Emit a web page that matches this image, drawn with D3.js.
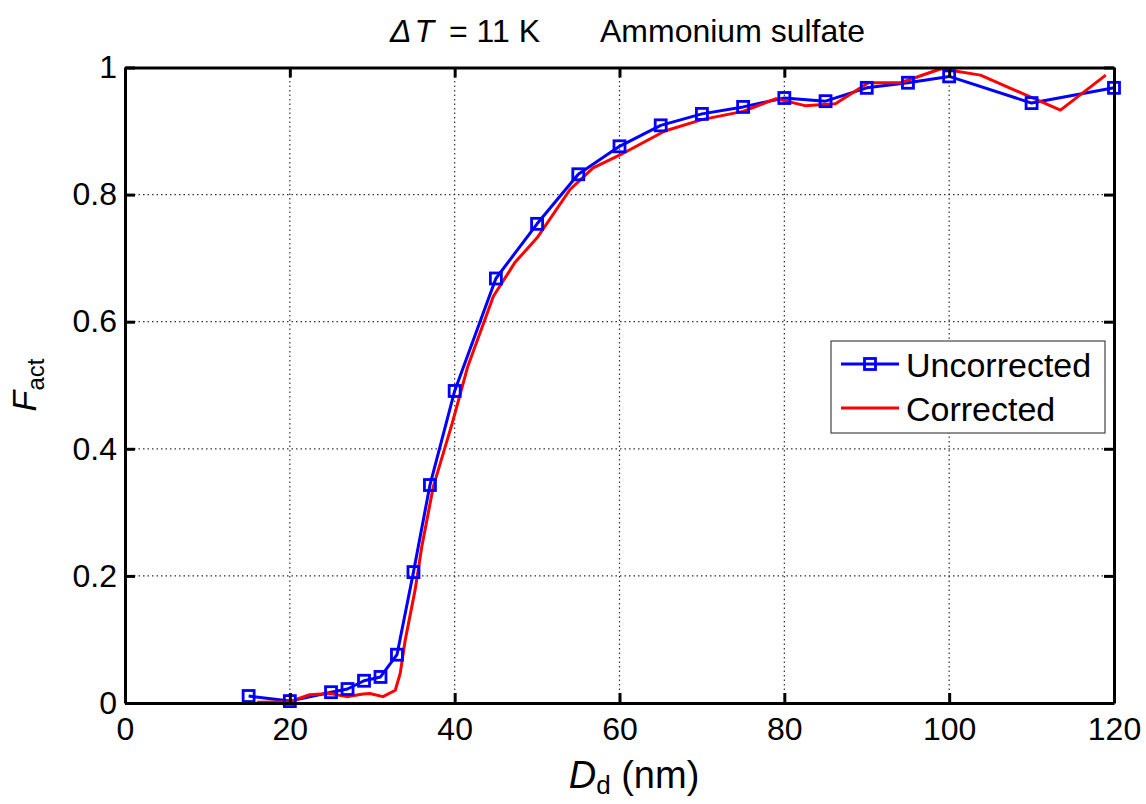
<!DOCTYPE html>
<html>
<head>
<meta charset="utf-8">
<title>Fact vs Dd</title>
<script src="https://d3js.org/d3.v7.min.js"></script>
<style>
  body { margin: 0; background: #fff; }
  text { font-family: "Liberation Sans", Arial, sans-serif; }
</style>
</head>
<body>
<svg width="1146" height="804"></svg>
<script>
// uncorrected (blue, square markers)
var uncorrX = [15, 20, 25, 27, 29, 31, 33, 35, 37, 40, 45, 50, 55, 60, 65, 70, 75, 80, 85, 90, 95, 100, 110, 120];
var uncorrY = [0.011, 0.003, 0.017, 0.022, 0.035, 0.041, 0.076, 0.206, 0.343, 0.491, 0.668, 0.754, 0.832, 0.876, 0.909, 0.927, 0.938, 0.952, 0.947, 0.968, 0.976, 0.986, 0.944, 0.968];

// corrected (red line)
var corrX = [16, 20, 22.4, 24.9, 26.9, 28.9, 29.7, 31.3, 32.8, 33.4, 34, 35.2, 36, 37.4, 39.7, 41.6, 44.7, 47.3, 50, 54, 56.8, 60, 65.5, 70, 75, 79, 82.5, 86.2, 90.2, 94.1, 99, 103.8, 113.5, 119];
var corrY = [0.001, 0.002, 0.013, 0.015, 0.010, 0.014, 0.015, 0.010, 0.020, 0.047, 0.099, 0.178, 0.245, 0.340, 0.440, 0.530, 0.640, 0.693, 0.732, 0.808, 0.842, 0.862, 0.900, 0.918, 0.931, 0.951, 0.940, 0.943, 0.976, 0.976, 0.998, 0.988, 0.933, 0.988];

var xTicks = [0, 20, 40, 60, 80, 100, 120];
var yTicks = [0, 0.2, 0.4, 0.6, 0.8, 1];
var seriesNames = ["Uncorrected", "Corrected"];

var svg = d3.select("svg");
var pLeft = 125, pRight = 1114, pTop = 67.5, pBottom = 703;

var x = d3.scaleLinear().domain([0, 120]).range([pLeft, pRight]);
var y = d3.scaleLinear().domain([0, 1]).range([pBottom, pTop]);

// grid
var grid = svg.append("g");
grid.selectAll("line.gx").data(xTicks.slice(1, -1)).enter().append("line")
    .attr("x1", function(d) { return x(d); }).attr("x2", function(d) { return x(d); })
    .attr("y1", pTop).attr("y2", pBottom)
    .attr("stroke", "#333").attr("stroke-width", 1.2).attr("stroke-dasharray", "1.5,3");
grid.selectAll("line.gy").data(yTicks.slice(1, -1)).enter().append("line")
    .attr("y1", function(d) { return y(d); }).attr("y2", function(d) { return y(d); })
    .attr("x1", pLeft).attr("x2", pRight)
    .attr("stroke", "#333").attr("stroke-width", 1.2).attr("stroke-dasharray", "1.5,3");

// lines
var line = d3.line().x(function(d) { return x(d[0]); }).y(function(d) { return y(d[1]); });
var blue = d3.zip(uncorrX, uncorrY);
var red = d3.zip(corrX, corrY);

svg.append("path").datum(blue)
    .attr("fill", "none").attr("stroke", "#0000ff").attr("stroke-width", 3)
    .attr("stroke-linejoin", "round").attr("d", line);
svg.append("path").datum(red)
    .attr("fill", "none").attr("stroke", "#ff0000").attr("stroke-width", 3)
    .attr("stroke-linejoin", "round").attr("d", line);

svg.append("g").selectAll("rect").data(blue).enter().append("rect")
    .attr("x", function(d) { return x(d[0]) - 5.5; })
    .attr("y", function(d) { return y(d[1]) - 5.5; })
    .attr("width", 11).attr("height", 11)
    .attr("fill", "none").attr("stroke", "#0000ff").attr("stroke-width", 2.8);

// axes (box with inward ticks)
var axB = d3.axisBottom(x).tickValues(xTicks).tickSizeInner(-10).tickSizeOuter(0).tickPadding(14);
var axL = d3.axisLeft(y).tickValues(yTicks).tickSizeInner(-10).tickSizeOuter(0).tickPadding(8)
    .tickFormat(function(d) { return d === 0 || d === 1 ? d : d3.format(".1f")(d); });
var axT = d3.axisTop(x).tickValues(xTicks).tickSizeInner(-10).tickSizeOuter(0).tickFormat("");
var axR = d3.axisRight(y).tickValues(yTicks).tickSizeInner(-10).tickSizeOuter(0).tickFormat("");

function style(g) {
  g.select(".domain").attr("stroke", "#000").attr("stroke-width", 3);
  g.selectAll(".tick line").attr("stroke", "#000").attr("stroke-width", 3);
  g.selectAll(".tick text").attr("font-size", 32).attr("fill", "#000")
    .attr("font-family", "'Liberation Sans', Arial, sans-serif");
}
svg.append("g").attr("transform", "translate(0," + pBottom + ")").call(axB).call(style);
svg.append("g").attr("transform", "translate(" + pLeft + ",0)").call(axL).call(style);
svg.append("g").attr("transform", "translate(0," + pTop + ")").call(axT).call(style);
svg.append("g").attr("transform", "translate(" + pRight + ",0)").call(axR).call(style);

// title
svg.append("text").attr("x", 540).attr("y", 42).attr("text-anchor", "end")
    .attr("font-size", 32).attr("fill", "#000")
  .call(function(t) {
    t.append("tspan").attr("font-style", "italic").text("\u0394");
    t.append("tspan").attr("font-style", "italic").attr("dx", 3).text("T");
    t.append("tspan").attr("dx", 6).text(" = 11 K");
  });
svg.append("text").attr("x", 600).attr("y", 42)
    .attr("font-size", 32).attr("fill", "#000").text("Ammonium sulfate");

// x label
var xl = svg.append("text").attr("x", 634).attr("y", 788).attr("text-anchor", "middle")
    .attr("font-size", 38).attr("fill", "#000");
xl.append("tspan").attr("font-style", "italic").text("D");
xl.append("tspan").attr("font-size", 26).attr("dy", 6).text("d");
xl.append("tspan").attr("dy", -6).text(" (nm)");

// y label
var yl = svg.append("text").attr("transform", "translate(36,385) rotate(-90)")
    .attr("text-anchor", "middle").attr("font-size", 34).attr("fill", "#000");
yl.append("tspan").attr("font-style", "italic").text("F");
yl.append("tspan").attr("font-size", 24).attr("dy", 8).text("act");

// legend
var lg = svg.append("g");
lg.append("rect").attr("x", 831).attr("y", 341).attr("width", 274).attr("height", 92)
    .attr("fill", "#fff").attr("stroke", "#444").attr("stroke-width", 1.2);
var colors = ["#0000ff", "#ff0000"];
seriesNames.forEach(function(name, i) {
  var yy = 364 + i * 44;
  lg.append("line").attr("x1", 841).attr("x2", 899).attr("y1", yy).attr("y2", yy)
    .attr("stroke", colors[i]).attr("stroke-width", 3);
  if (i === 0) {
    lg.append("rect").attr("x", 864.5).attr("y", yy - 5.5).attr("width", 11).attr("height", 11)
      .attr("fill", "none").attr("stroke", colors[i]).attr("stroke-width", 2.8);
  }
  lg.append("text").attr("x", 906).attr("y", yy + 13).attr("font-size", 34).attr("fill", "#000").text(name);
});
</script>
</body>
</html>
